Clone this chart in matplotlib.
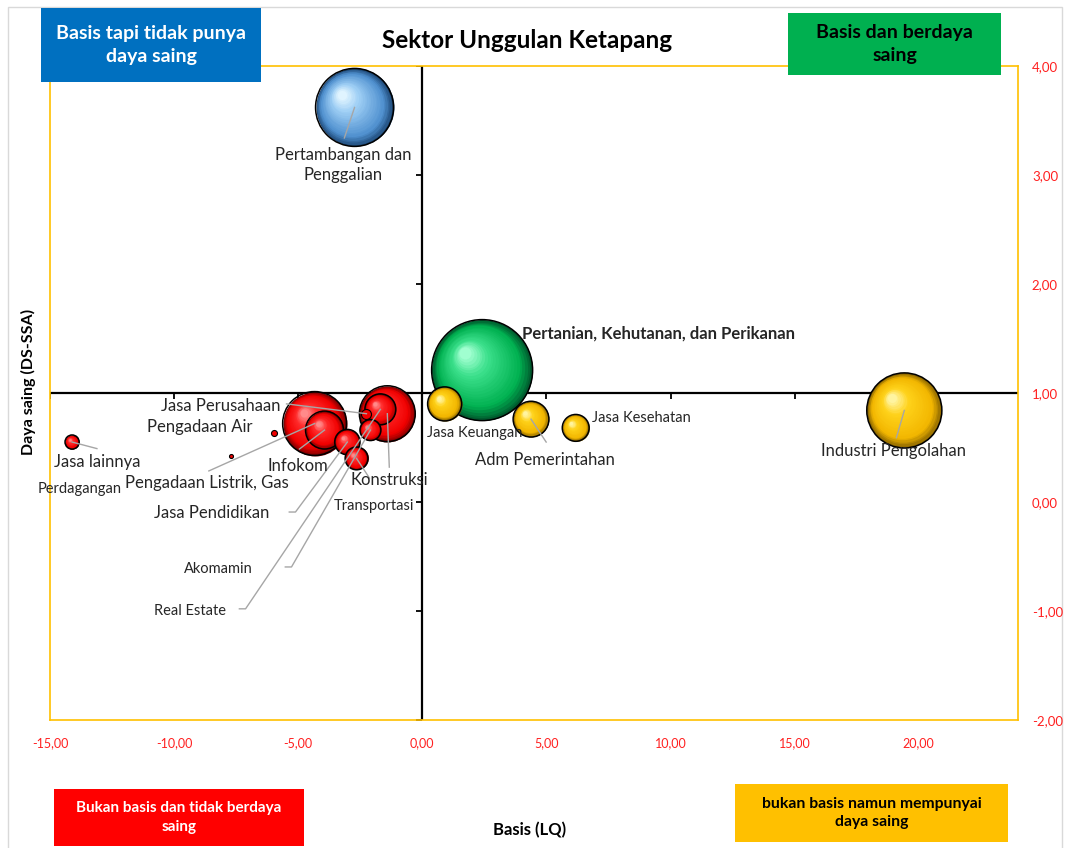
import numpy as np
import matplotlib
matplotlib.use("Agg")
import matplotlib.pyplot as plt
from matplotlib.patches import Rectangle
from matplotlib.transforms import offset_copy
from matplotlib.colors import to_rgb

plt.rcParams['font.family'] = ['Lato', 'DejaVu Sans']

# ---------------- data ----------------
sektor = [
    "Pertanian, Kehutanan, dan Perikanan", "Pertambangan dan Penggalian",
    "Industri Pengolahan", "Pengadaan Listrik, Gas", "Pengadaan Air",
    "Konstruksi", "Perdagangan", "Transportasi", "Akomamin", "Infokom",
    "Jasa Keuangan", "Real Estate", "Jasa Perusahaan", "Adm Pemerintahan",
    "Jasa Pendidikan", "Jasa Kesehatan", "Jasa lainnya",
]
lq = [2.41, -2.73, 19.42, -4.34, -5.99, -1.41, -7.69, -2.65, -2.09, -3.94,
      0.90, -1.69, -2.25, 4.38, -3.02, 6.18, -14.11]
ds = [1.21, 3.62, 0.84, 0.72, 0.63, 0.81, 0.42, 0.40, 0.66, 0.66,
      0.90, 0.85, 0.81, 0.76, 0.55, 0.68, 0.55]
ukuran = [25.5, 15.2, 14.1, 10.2, 0.09, 7.8, 0.04, 1.3, 1.1, 3.6,
          2.9, 2.4, 0.25, 3.2, 1.6, 1.8, 0.5]

x_ticks = [-15, -10, -5, 0, 5, 10, 15, 20]
y_ticks = [-2, -1, 0, 1, 2, 3, 4]
x_lim = (-15, 24)
y_lim = (-2, 4)
x_cross, y_cross = 0, 1

# ---------------- figure ----------------
W, H = 1066, 848
fig = plt.figure(figsize=(W / 100, H / 100), dpi=100)
def fx(px): return px / W
def fy(py): return 1 - py / H

ax = fig.add_axes([fx(50), fy(720), (1018 - 50) / W, (720 - 66) / H])
ax.set_xlim(*x_lim)
ax.set_ylim(*y_lim)
for sp in ax.spines.values():
    sp.set_color('#FFC000')
    sp.set_linewidth(1.2)

def fmt(v):
    return f"{v:.2f}".replace('.', ',')

ax.set_xticks(x_ticks)
ax.set_xticklabels([fmt(v) for v in x_ticks])
ax.set_yticks(y_ticks)
ax.set_yticklabels([fmt(v) for v in y_ticks])
ax.yaxis.set_ticks_position('right')
ax.tick_params(axis='x', length=0, pad=12, labelsize=9, labelcolor='#FF2020')
ax.tick_params(axis='y', length=0, pad=10, labelsize=9.5, labelcolor='#FF2020')

# crossing axes
ax.plot(list(x_lim), [y_cross, y_cross], color='black', lw=1.6, zorder=2)
ax.plot([x_cross, x_cross], list(y_lim), color='black', lw=1.6, zorder=2)
ax.plot(x_ticks, [y_cross] * len(x_ticks), linestyle='none', marker=3,
        markersize=4, markeredgewidth=1.3, color='black', zorder=2)
ax.plot([x_cross] * len(y_ticks), y_ticks, linestyle='none', marker=0,
        markersize=4, markeredgewidth=1.3, color='black', zorder=2)

# ---------------- bubbles ----------------
palet = {
    'biru':   ('#1F4A78', '#4F90CF', '#9FCFF5', '#E0F4FF'),
    'hijau':  ('#005A2E', '#00B050', '#3CE08C', '#A0FFD0'),
    'kuning': ('#8A6500', '#F2B600', '#FFD21A', '#FFF4A0'),
    'merah':  ('#7A0000', '#F00000', '#FF2A2A', '#FF8A8A'),
}

def quadrant(x, y):
    if x >= x_cross and y >= y_cross:
        return 'hijau'
    if x < x_cross and y >= y_cross:
        return 'biru'
    if x >= x_cross:
        return 'kuning'
    return 'merah'

def ramp(cols, t):
    stops = [0.0, 0.2, 0.72, 1.0]
    rgb = np.array([to_rgb(c) for c in cols])
    return tuple(np.interp(t, stops, rgb[:, i]) for i in range(3))

SCALE = 207.36  # points^2 per size unit
order = np.argsort(ukuran)[::-1]
for rank, i in enumerate(order):
    x, y, s = lq[i], ds[i], ukuran[i] * SCALE
    cols = palet[quadrant(x, y)]
    z = 3 + rank * 0.1
    r_pt = np.sqrt(s) / 2
    if r_pt < 4:
        ax.scatter([x], [y], s=s, color=cols[1], edgecolors='black',
                   linewidths=0.8, zorder=z)
        continue
    N = 24
    for k in range(N):
        t = k / (N - 1)
        frac = 1 - 0.88 * t
        off = r_pt * 0.33 * t
        tr = offset_copy(ax.transData, fig=fig, x=-off, y=off, units='points')
        ax.scatter([x], [y], s=(2 * r_pt * frac) ** 2, color=ramp(cols, t),
                   linewidths=0, transform=tr, zorder=z + k * 0.001)
    ax.scatter([x], [y], s=s, facecolors='none', edgecolors='black',
               linewidths=1.1, zorder=z + 0.05)

# ---------------- labels (layout) ----------------
# name: (text x, text y, ha, fontsize, bold, leader start or None, elbow)
label_layout = {
    "Pertanian, Kehutanan, dan Perikanan": (4.02, 1.55, 'left', 12, True, None, False),
    "Pertambangan dan Penggalian": (-3.18, 3.09, 'center', 12, False, (-3.14, 3.34), False),
    "Industri Pengolahan": (18.98, 0.47, 'center', 12, False, (19.10, 0.59), False),
    "Jasa Kesehatan": (6.84, 0.77, 'left', 10.5, False, None, False),
    "Jasa Keuangan": (2.13, 0.635, 'center', 10.5, False, None, False),
    "Adm Pemerintahan": (4.95, 0.385, 'center', 12, False, (4.99, 0.55), False),
    "Jasa lainnya": (-13.11, 0.367, 'center', 12, False, (-13.11, 0.49), False),
    "Perdagangan": (-13.79, 0.12, 'center', 10.5, False, None, False),
    "Pengadaan Listrik, Gas": (-8.69, 0.174, 'center', 12, False, (-8.60, 0.285), False),
    "Pengadaan Air": (-8.97, 0.69, 'center', 12, False, None, False),
    "Jasa Perusahaan": (-8.12, 0.881, 'center', 12, False, (-5.47, 0.90), False),
    "Infokom": (-5.03, 0.33, 'center', 12, False, (-4.95, 0.486), False),
    "Konstruksi": (-1.33, 0.20, 'center', 12, False, (-1.33, 0.32), False),
    "Transportasi": (-1.93, -0.037, 'center', 10.5, False, (-2.13, 0.22), False),
    "Jasa Pendidikan": (-8.48, -0.10, 'center', 12, False, (-5.36, -0.092), True),
    "Akomamin": (-8.20, -0.615, 'center', 10.5, False, (-5.52, -0.596), True),
    "Real Estate": (-9.37, -1.0, 'center', 10.5, False, (-7.37, -0.98), True),
}
display_text = {"Pertambangan dan Penggalian": "Pertambangan dan\nPenggalian"}

for i, name in enumerate(sektor):
    tx, ty, ha, fs, bold, lead, elbow = label_layout[name]
    ax.text(tx, ty, display_text.get(name, name), ha=ha, va='center',
            fontsize=fs, fontweight='bold' if bold else 'normal',
            color='#262626', zorder=20, linespacing=1.3)
    if lead is not None:
        xs = [lead[0]]
        ys = [lead[1]]
        if elbow:
            xs.append(lead[0] + 0.25)
            ys.append(lead[1])
        xs.append(lq[i])
        ys.append(ds[i])
        ax.plot(xs, ys, color='#A6A6A6', lw=1.0, zorder=15)

# ---------------- titles & quadrant boxes ----------------
fig.text(fx(527), fy(40), "Sektor Unggulan Ketapang", ha='center', va='center',
         fontsize=17.5, fontweight='bold', color='black')
fig.text(fx(28), fy(382), "Daya saing (DS-SSA)", rotation=90, ha='center',
         va='center', fontsize=11.5, fontweight='bold', color='black')
fig.text(fx(530), fy(830), "Basis (LQ)", ha='center', va='center',
         fontsize=12, fontweight='bold', color='black')

def box(x0, y0, x1, y1, color, text, tcolor, fs):
    fig.add_artist(Rectangle((fx(x0), fy(y1)), (x1 - x0) / W, (y1 - y0) / H,
                             transform=fig.transFigure, facecolor=color,
                             edgecolor='none', zorder=5))
    fig.text(fx((x0 + x1) / 2), fy((y0 + y1) / 2), text, ha='center',
             va='center', fontsize=fs, fontweight='bold', color=tcolor,
             linespacing=1.4, zorder=6)

box(41, 8, 261, 82, '#0070C0', "Basis tapi tidak punya\ndaya saing", 'white', 14)
box(788, 13, 1001, 75, '#00B050', "Basis dan berdaya\nsaing", 'black', 14)
box(54, 789, 304, 846, '#FF0000', "Bukan basis dan tidak berdaya\nsaing", 'white', 11)
box(735, 784, 1008, 842, '#FFC000', "bukan basis namun mempunyai\ndaya saing", 'black', 11.3)

# outer chart frame
fig.add_artist(Rectangle((fx(8), fy(852)), (1062 - 8) / W, (852 - 7) / H,
                         transform=fig.transFigure, facecolor='none',
                         edgecolor='#D9D9D9', lw=1, zorder=0))

fig.savefig("out.png", dpi=100)
